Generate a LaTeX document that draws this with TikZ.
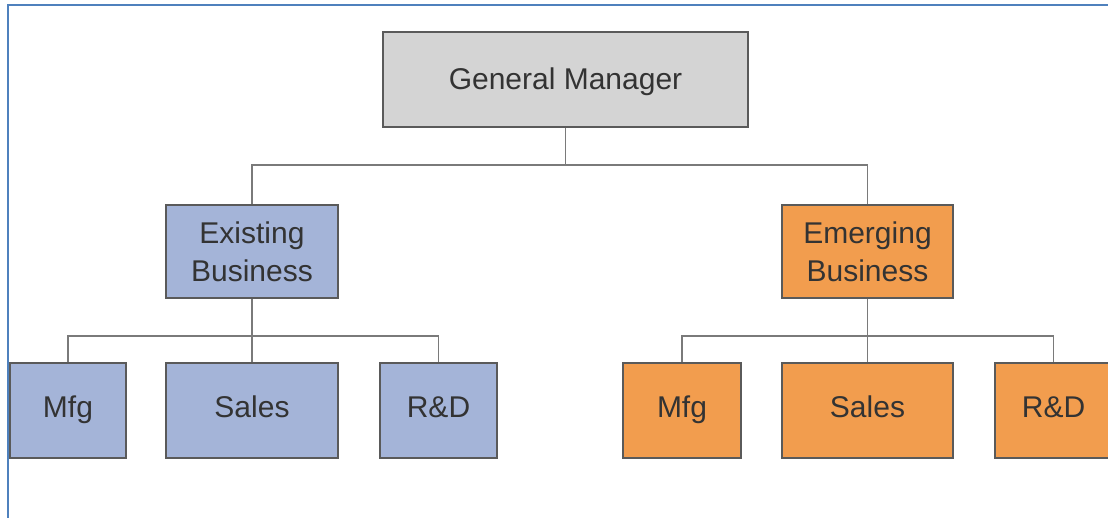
\documentclass[tikz,border=0pt]{standalone}
\usepackage{fontspec}
\setmainfont{Liberation Sans}
\definecolor{gmgrey}{HTML}{D4D4D4}
\definecolor{exblue}{HTML}{A4B4D8}
\definecolor{emorange}{HTML}{F29D4E}
\definecolor{boxline}{HTML}{5A5A5A}
\definecolor{linkgrey}{HTML}{7A7A7A}
\definecolor{txt}{HTML}{333333}
\definecolor{frameblue}{HTML}{4F81BD}
\tikzset{
  orgbox/.style={draw=boxline, line width=1.8pt, inner sep=0pt, text=txt,
    font=\fontsize{30}{38}\selectfont, align=center,
    minimum height=95pt, text height=22pt, text depth=8pt},
  gmbox/.style={orgbox, fill=gmgrey, text height=21pt, text depth=0pt},
  exbox/.style={orgbox, fill=exblue},
  embox/.style={orgbox, fill=emorange},
  twoline/.style={text height=, text depth=, minimum height=93pt},
  link/.style={draw=linkgrey, line width=1.6pt}
}
\begin{document}
\begin{tikzpicture}[x=1pt, y=-1pt]
  \useasboundingbox (0,0) rectangle (1108,518);
  \clip (0,0) rectangle (1108,518);
  \fill[white] (0,0) rectangle (1108,518);

  % top of the chart
  \node[gmbox, minimum width=365pt] (gm) at (565.5,79.5) {General Manager};

  % the two business units
  \node[exbox, twoline, minimum width=172pt] (ex) at (252,251.5) {Existing\\Business};
  \node[embox, twoline, minimum width=171pt] (em) at (867.5,251.5) {Emerging\\Business};

  % functions of the existing business
  \node[exbox, minimum width=116pt] (exmfg) at (68,410.5) {Mfg};
  \node[exbox, minimum width=172pt] (exsal) at (252,410.5) {Sales};
  \node[exbox, minimum width=117pt] (exrd)  at (438.5,410.5) {R\&D};

  % functions of the emerging business
  \node[embox, minimum width=118pt] (emmfg) at (682,410.5) {Mfg};
  \node[embox, minimum width=171pt] (emsal) at (867.5,410.5) {Sales};
  \node[embox, minimum width=117pt] (emrd)  at (1053.5,410.5) {R\&D};

  % junctions of the tree
  \coordinate (j0) at (565.5,165);
  \coordinate (j1) at (252,336);
  \coordinate (j2) at (867.5,336);

  % connectors
  \draw[link] (gm.south) -- (j0);
  \draw[link] (ex.north) |- (j0);
  \draw[link] (em.north) |- (j0);

  \draw[link] (ex.south) -- (exsal.north);
  \draw[link] (exmfg.north) |- (j1);
  \draw[link] (exrd.north) |- (j1);

  \draw[link] (em.south) -- (emsal.north);
  \draw[link] (emmfg.north) |- (j2);
  \draw[link] (emrd.north) |- (j2);

  % frame lines on top and left
  \draw[frameblue, line width=2.6pt] (8,520) -- (8,5) -- (1110,5);
\end{tikzpicture}
\end{document}
